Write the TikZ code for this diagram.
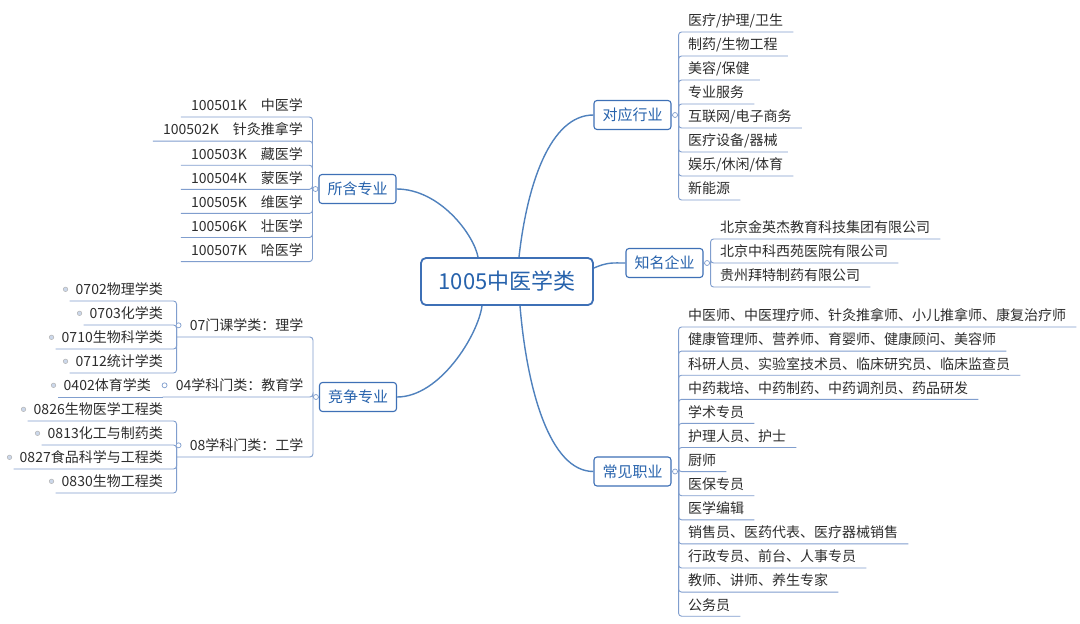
\documentclass[tikz,border=0pt]{standalone}
\usepackage{fontspec}
\setmainfont{Noto Sans CJK SC}
\usepackage{tikz}

\definecolor{linecol}{RGB}{79,129,189}
\definecolor{boxcol}{RGB}{62,112,182}
\definecolor{titlecol}{RGB}{38,98,172}
\definecolor{leafcol}{RGB}{128,158,206}
\definecolor{textgray}{RGB}{45,45,45}

\begin{document}
\begin{tikzpicture}[x=1pt, y=-1pt,
  every node/.style={font=\fontsize{14}{16}\selectfont, text=textgray},
  root/.style={draw=boxcol, line width=1.8pt, rounded corners=5pt, fill=white, minimum width=172pt, minimum height=47pt, inner sep=0pt, text=titlecol, font=\fontsize{22}{24}\selectfont},
  branch/.style={draw=boxcol, line width=1.1pt, rounded corners=3pt, fill=white, minimum width=77pt, minimum height=29pt, inner sep=0pt, text=titlecol, font=\fontsize{15}{17}\selectfont},
  leaf/.style={inner xsep=10pt, inner ysep=0pt, text height=11pt, text depth=6pt},
  subleaf/.style={leaf, inner xsep=6pt},
  trunk/.style={draw=linecol, line width=1.4pt},
  twig/.style={draw=leafcol, line width=0.9pt, rounded corners=3pt},
  knob/.style={circle, draw=leafcol, fill=white, line width=0.7pt, minimum size=5pt, inner sep=0pt},
  dot/.style={circle, draw=gray!60, fill=leafcol!40, line width=0.5pt, minimum size=4.5pt, inner sep=0pt}]

  \fill[white] (0,0) rectangle (1080,624);
  \useasboundingbox (0,0) rectangle (1080,624);

  % centre and main branches
  \node[root] (root) at (507,281.5) {1005中医学类};
  \node[branch] (szzy) at (357.5,189) {所含专业};
  \node[branch] (jzzy) at (358,397) {竞争专业};
  \node[branch] (dyhy) at (632.5,115) {对应行业};
  \node[branch] (zmqy) at (664.5,263) {知名企业};
  \node[branch] (cjzy) at (632.5,471.5) {常见职业};

  \draw[trunk] ([xshift=-29pt]root.north) .. controls (474,235) and (440,189) .. (szzy.east);
  \draw[trunk] ([xshift=12pt]root.north) .. controls (527,185) and (550,115) .. (dyhy.west);
  \draw[trunk] ([xshift=-25pt]root.south) .. controls (478,335) and (440,397) .. (jzzy.east);
  \draw[trunk] ([xshift=13pt]root.south) .. controls (527,390) and (550,471.5) .. (cjzy.west);
  \draw[trunk] ([yshift=13.5pt]root.east) .. controls (608,262) and (612,263) .. (zmqy.west);

  \coordinate (szzy-j) at ([xshift=-6pt]szzy.west);
  \coordinate (jzzy-j) at ([xshift=-6pt]jzzy.west);
  \coordinate (dyhy-j) at ([xshift=7pt]dyhy.east);
  \coordinate (zmqy-j) at ([xshift=7pt]zmqy.east);
  \coordinate (cjzy-j) at ([xshift=7pt]cjzy.east);

  % 所含专业
  \node[leaf, anchor=south east] (sz1) at (313,117) {100501K\quad 中医学};
  \node[leaf, anchor=south east] (sz2) at (313,141.1) {100502K\quad 针灸推拿学};
  \node[leaf, anchor=south east] (sz3) at (313,165.2) {100503K\quad 藏医学};
  \node[leaf, anchor=south east] (sz4) at (313,189.3) {100504K\quad 蒙医学};
  \node[leaf, anchor=south east] (sz5) at (313,213.4) {100505K\quad 维医学};
  \node[leaf, anchor=south east] (sz6) at (313,237.5) {100506K\quad 壮医学};
  \node[leaf, anchor=south east] (sz7) at (313,261.6) {100507K\quad 哈医学};

  % 竞争专业
  \node[leaf, anchor=south east] (n07) at (313.5,337) {07门课学类：理学};
  \node[leaf, anchor=south east] (n04) at (313.5,397) {04学科门类：教育学};
  \node[leaf, anchor=south east] (n08) at (313.5,457) {08学科门类：工学};
  \coordinate (n07-j) at ([xshift=-3pt]n07.south west);
  \coordinate (n04-j) at ([xshift=-3pt]n04.south west);
  \coordinate (n08-j) at ([xshift=-3pt]n08.south west);

  \node[subleaf, anchor=south east] (g71) at (169,301) {0702物理学类};
  \node[subleaf, anchor=south east] (g72) at (169,325) {0703化学类};
  \node[subleaf, anchor=south east] (g73) at (169,349) {0710生物科学类};
  \node[subleaf, anchor=south east] (g74) at (169,373) {0712统计学类};
  \node[subleaf, anchor=south east] (g41) at (157,397) {0402体育学类};
  \node[subleaf, anchor=south east] (g81) at (169,421) {0826生物医学工程类};
  \node[subleaf, anchor=south east] (g82) at (169,445) {0813化工与制药类};
  \node[subleaf, anchor=south east] (g83) at (169,469) {0827食品科学与工程类};
  \node[subleaf, anchor=south east] (g84) at (169,493) {0830生物工程类};

  % 对应行业
  \node[leaf, anchor=south west] (dy1) at (678,32) {医疗/护理/卫生};
  \node[leaf, anchor=south west] (dy2) at (678,56) {制药/生物工程};
  \node[leaf, anchor=south west] (dy3) at (678,80) {美容/保健};
  \node[leaf, anchor=south west] (dy4) at (678,104) {专业服务};
  \node[leaf, anchor=south west] (dy5) at (678,128) {互联网/电子商务};
  \node[leaf, anchor=south west] (dy6) at (678,152) {医疗设备/器械};
  \node[leaf, anchor=south west] (dy7) at (678,176) {娱乐/休闲/体育};
  \node[leaf, anchor=south west] (dy8) at (678,200) {新能源};

  % 知名企业
  \node[leaf, anchor=south west] (zm1) at (710,239) {北京金英杰教育科技集团有限公司};
  \node[leaf, anchor=south west] (zm2) at (710,263) {北京中科西苑医院有限公司};
  \node[leaf, anchor=south west] (zm3) at (710,287) {贵州拜特制药有限公司};

  % 常见职业
  \node[leaf, anchor=south west] (cj1) at (678,327) {中医师、中医理疗师、针灸推拿师、小儿推拿师、康复治疗师};
  \node[leaf, anchor=south west] (cj2) at (678,351.1) {健康管理师、营养师、育婴师、健康顾问、美容师};
  \node[leaf, anchor=south west] (cj3) at (678,375.2) {科研人员、实验室技术员、临床研究员、临床监查员};
  \node[leaf, anchor=south west] (cj4) at (678,399.3) {中药栽培、中药制药、中药调剂员、药品研发};
  \node[leaf, anchor=south west] (cj5) at (678,423.4) {学术专员};
  \node[leaf, anchor=south west] (cj6) at (678,447.5) {护理人员、护士};
  \node[leaf, anchor=south west] (cj7) at (678,471.6) {厨师};
  \node[leaf, anchor=south west] (cj8) at (678,495.7) {医保专员};
  \node[leaf, anchor=south west] (cj9) at (678,519.8) {医学编辑};
  \node[leaf, anchor=south west] (cj10) at (678,543.9) {销售员、医药代表、医疗器械销售};
  \node[leaf, anchor=south west] (cj11) at (678,568) {行政专员、前台、人事专员};
  \node[leaf, anchor=south west] (cj12) at (678,592.1) {教师、讲师、养生专家};
  \node[leaf, anchor=south west] (cj13) at (678,616.2) {公务员};

  % underlines and brackets
  \draw[twig] (szzy.west) -- (szzy-j);
  \draw[twig] (jzzy.west) -- (jzzy-j);
  \draw[twig] (dyhy.east) -- (dyhy-j);
  \draw[twig] (zmqy.east) -- (zmqy-j);
  \draw[twig] (cjzy.east) -- (cjzy-j);
  \foreach \i in {1,...,7} \draw[twig] (szzy-j) |- (sz\i.south west);
  \foreach \n in {n07,n04,n08} \draw[twig] (jzzy-j) |- (\n-j);
  \foreach \i in {1,...,4} \draw[twig] (n07-j) |- (g7\i.south west);
  \draw[twig] (n04-j) -- (g41.south west);
  \foreach \i in {1,...,4} \draw[twig] (n08-j) |- (g8\i.south west);
  \foreach \i in {1,...,8} \draw[twig] (dyhy-j) |- (dy\i.south east);
  \foreach \i in {1,...,3} \draw[twig] (zmqy-j) |- (zm\i.south east);
  \foreach \i in {1,...,13} \draw[twig] (cjzy-j) |- (cj\i.south east);

  % collapse knobs
  \node[knob] (szzy-k) at ([xshift=-3pt]szzy.west) {};
  \node[knob] (jzzy-k) at ([xshift=-3pt]jzzy.west) {};
  \node[knob] (dyhy-k) at ([xshift=3.5pt]dyhy.east) {};
  \node[knob] (zmqy-k) at ([xshift=3.5pt]zmqy.east) {};
  \node[knob] (cjzy-k) at ([xshift=3.5pt]cjzy.east) {};
  \node[knob] (n07-k) at ([xshift=-1pt,yshift=3pt]n07.west) {};
  \node[knob] (n04-k) at ([xshift=-1pt,yshift=3pt]n04.west) {};
  \node[knob] (n08-k) at ([xshift=-1pt,yshift=3pt]n08.west) {};
  \foreach \g in {g71,g72,g73,g74,g41,g81,g82,g83,g84}
    \node[dot] (\g-k) at ([xshift=-4pt,yshift=3pt]\g.west) {};
\end{tikzpicture}
\end{document}
